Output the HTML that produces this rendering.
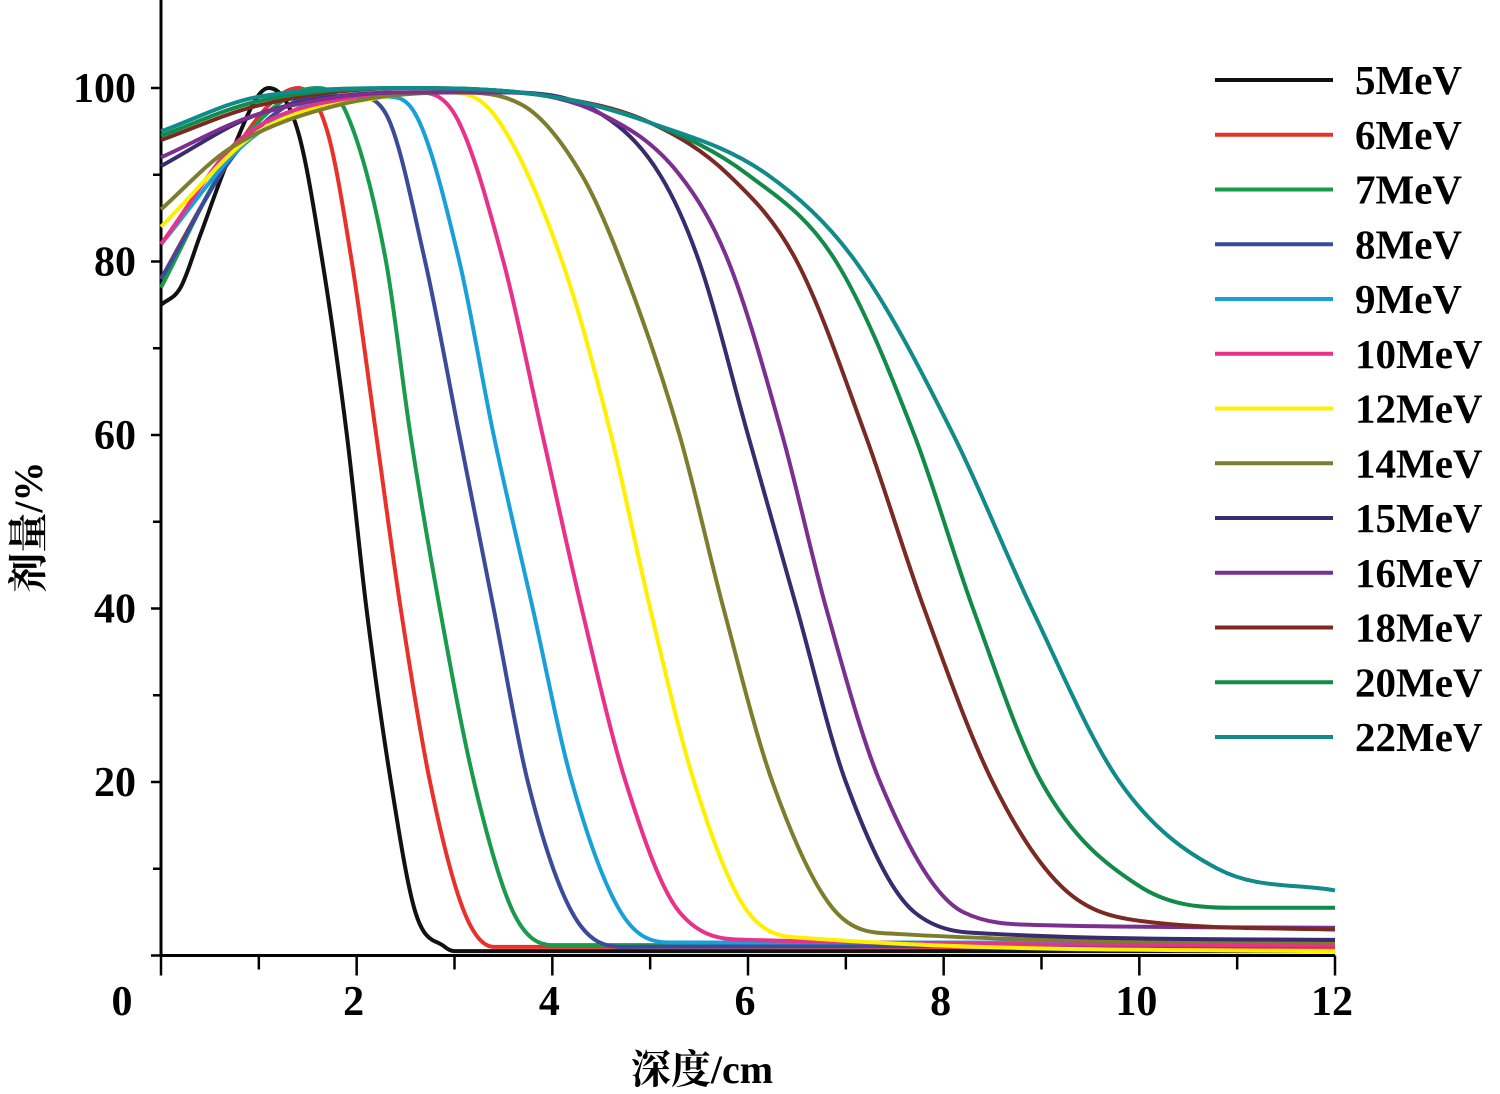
<!DOCTYPE html>
<html><head><meta charset="utf-8"><style>
html,body{margin:0;padding:0;background:#fff;}
svg{display:block;font-family:"Liberation Serif","Noto Serif CJK SC",serif;font-weight:bold;}
</style></head><body>
<svg id="chart" width="1500" height="1094" viewBox="0 0 1500 1094" xmlns="http://www.w3.org/2000/svg">
<g id="axes"></g>
<g id="series"></g>
<g id="legend"></g>
<text transform="translate(42,527) rotate(-90)" text-anchor="middle" font-size="40">剂量/%</text>
<text x="702" y="1083" text-anchor="middle" font-size="40">深度/cm</text>
</svg>
<script>
const seriesNames=["5MeV","6MeV","7MeV","8MeV","9MeV","10MeV","12MeV","14MeV","15MeV","16MeV","18MeV","20MeV","22MeV"];
const seriesColors=["#111111","#e8312a","#1a9b4b","#3c4a9a","#1aa0d8","#e8318a","#fff000","#7d7d2d","#3a2a6e","#7b3090","#7a2a22","#128a4a","#108a8a"];
const xTicks=[0,2,4,6,8,10,12];
const yTicks=[20,40,60,80,100];
const s5=[[0,75],[0.2,77],[0.4,83],[0.7,92],[1.1,100],[1.4,95],[1.65,80],[1.9,60],[2.1,40],[2.35,20],[2.6,5],[2.9,1],[3.0,0.5],[12,0.5]];
const s6=[[0,78],[0.6,90],[1.1,98],[1.4,100],[1.7,95],[1.95,80],[2.2,60],[2.45,40],[2.75,20],[3.1,5],[3.4,1],[12,1]];
const s7=[[0,77],[0.7,92],[1.3,99],[1.6,100],[1.9,97],[2.3,80],[2.55,60],[2.85,40],[3.2,20],[3.6,5],[4.0,1.2],[12,1.2]];
const s8=[[0,78],[0.8,93],[1.6,99],[2.0,99],[2.3,97],[2.7,80],[3.05,60],[3.4,40],[3.75,20],[4.2,5],[4.7,1],[12,1.2]];
const s9=[[0,82],[0.9,94],[1.9,99],[2.3,99],[2.6,97],[3.05,80],[3.4,60],[3.8,40],[4.2,20],[4.7,5],[5.2,1.5],[12,1.5]];
const s10=[[0,82],[0.8,94],[2.0,99],[2.6,99.5],[3.0,97],[3.5,80],[3.9,60],[4.3,40],[4.75,20],[5.3,5],[6.0,1.8],[12,1.2]];
const s12=[[0,84],[1.0,95],[2.3,99],[2.9,99.5],[3.4,97],[4.1,80],[4.6,60],[5.0,40],[5.45,20],[6.0,5],[6.6,2],[12,0.5]];
const s14=[[0,86],[0.7,93],[1.8,98],[3.0,99.5],[3.7,98],[4.3,90],[4.7,80],[5.3,60],[5.75,40],[6.25,20],[6.9,5],[7.5,2.5],[12,1.5]];
const s15=[[0,91],[1.0,97],[2.5,99.5],[3.5,99.5],[4.5,97],[5.1,90],[5.5,80],[6.0,60],[6.5,40],[7.0,20],[7.7,5],[8.5,2.5],[12,1.8]];
const s16=[[0,92],[1.0,97],[2.5,99.5],[3.5,99.5],[4.5,97],[5.3,90],[5.8,80],[6.35,60],[6.8,40],[7.35,20],[8.2,5],[9.0,3.5],[12,3.2]];
const s18=[[0,94],[1.0,98],[2.5,100],[4.0,99],[5.0,96],[5.8,90],[6.5,80],[7.2,60],[7.8,40],[8.5,20],[9.2,8],[10.0,4],[12,3]];
const s20=[[0,94.5],[1.0,98.5],[2.5,100],[4.0,99],[5.0,96],[6.0,90],[6.9,80],[7.7,60],[8.3,40],[9.0,20],[10.0,8],[11.0,5.5],[12,5.5]];
const s22=[[0,95],[1.0,99],[2.5,100],[4.0,99],[5.0,96],[6.2,90],[7.1,80],[8.1,60],[8.9,40],[9.8,20],[10.8,10],[12,7.5]];
const seriesData=[s5,s6,s7,s8,s9,s10,s12,s14,s15,s16,s18,s20,s22];

const NS="http://www.w3.org/2000/svg";
const X0=161,X1=1335,Y0=955.5,Y100=88;
function xScale(v){return X0+(X1-X0)*v/12;}
function yScale(v){return Y0-(Y0-Y100)*v/100;}
function mk(tag,attrs,parent){const e=document.createElementNS(NS,tag);for(const k in attrs)e.setAttribute(k,attrs[k]);parent.appendChild(e);return e;}
const axes=document.getElementById('axes');
let ln=mk('line',{x1:X0,y1:0,x2:X0,y2:Y0,stroke:'#000','stroke-width':3},axes);


ln=mk('line',{x1:X0-1.5,y1:Y0,x2:X1,y2:Y0,stroke:'#000','stroke-width':3},axes);


for(let v=0;v<=120;v+=10){const y=yScale(v);if(y<2)continue;const t=mk('line',{x1:X0-(v%20==0?10:8),y1:y,x2:X0,y2:y,stroke:'#000','stroke-width':2.5},axes);

}
for(let v=0;v<=12;v++){const x=xScale(v);const t=mk('line',{x1:x,y1:Y0,x2:x,y2:Y0+(v%2==0?20:14),stroke:'#000','stroke-width':2.5},axes);

}
yTicks.forEach(v=>{const t=mk('text',{x:136,y:yScale(v)+14,'text-anchor':'end','font-size':42},axes);t.textContent=v;

});
xTicks.forEach(v=>{const t=mk('text',{x:v==0?122:xScale(v)-3,y:1015,'text-anchor':'middle','font-size':42},axes);t.textContent=v;

});
function monoPath(pts){
  const n=pts.length,xs=pts.map(p=>p[0]),ys=pts.map(p=>p[1]);
  const d=[],m=new Array(n);
  for(let i=0;i<n-1;i++)d.push((ys[i+1]-ys[i])/(xs[i+1]-xs[i]));
  m[0]=d[0];m[n-1]=d[n-2];
  for(let i=1;i<n-1;i++){m[i]=(d[i-1]*d[i]<=0)?0:(d[i-1]+d[i])/2;}
  for(let i=0;i<n-1;i++){
    if(d[i]===0){m[i]=0;m[i+1]=0;continue;}
    const a=m[i]/d[i],b=m[i+1]/d[i],s=a*a+b*b;
    if(s>9){const t=3/Math.sqrt(s);m[i]=t*a*d[i];m[i+1]=t*b*d[i];}
  }
  let s='M'+xScale(xs[0])+','+yScale(ys[0]);
  for(let i=0;i<n-1;i++){const h=xs[i+1]-xs[i];
    s+=' C'+xScale(xs[i]+h/3)+','+yScale(ys[i]+m[i]*h/3)+' '+xScale(xs[i+1]-h/3)+','+yScale(ys[i+1]-m[i+1]*h/3)+' '+xScale(xs[i+1])+','+yScale(ys[i+1]);}
  return s;}
const sg=document.getElementById('series');
seriesData.forEach((d,i)=>{const p=mk('path',{d:monoPath(d),fill:'none',stroke:seriesColors[i],'stroke-width':4},sg);

});
const lg=document.getElementById('legend');
seriesNames.forEach((n,i)=>{const y=80+i*54.75;
const l=mk('line',{x1:1215,y1:y,x2:1333,y2:y,stroke:seriesColors[i],'stroke-width':4},lg);


const t=mk('text',{x:1355,y:y+14,'font-size':41},lg);t.textContent=n;

});
</script>
</body></html>
